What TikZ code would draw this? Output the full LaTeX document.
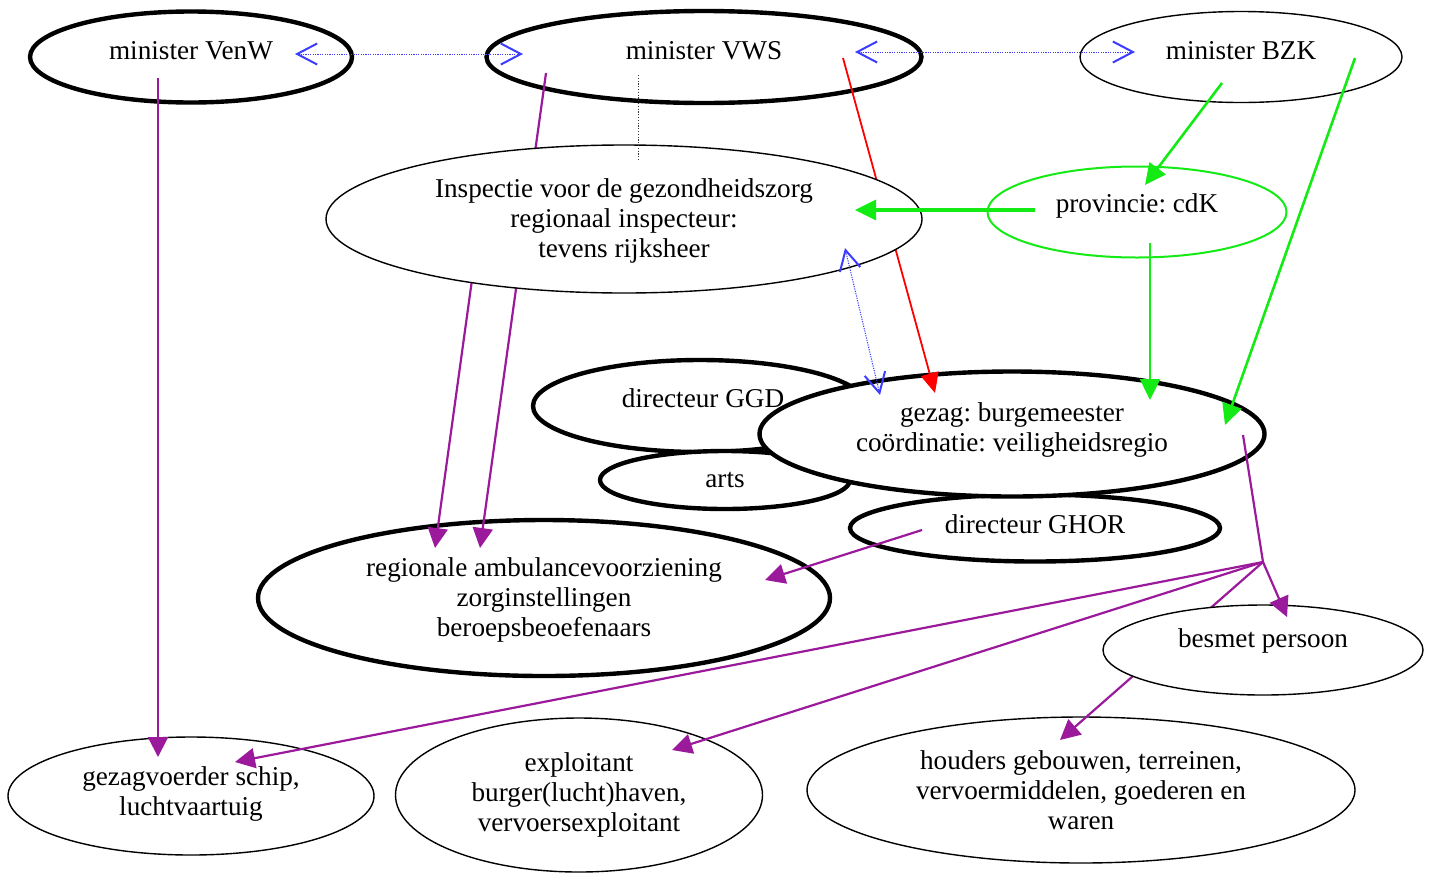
\documentclass[tikz,border=0pt]{standalone}
\usepackage{fontspec}
\setmainfont{Liberation Serif}
\usetikzlibrary{shapes.geometric,arrows.meta,calc}
\definecolor{pur}{RGB}{155,25,155}
\definecolor{grn}{RGB}{20,235,20}
\definecolor{blu}{RGB}{60,60,255}
\pgfdeclarelayer{base}
\pgfdeclarelayer{hid}
\pgfdeclarelayer{cover}
\pgfsetlayers{base,hid,cover,main}
\frenchspacing
\begin{document}
\begin{tikzpicture}[x=0.5pt,y=-0.5pt,
  font=\fontsize{13.6}{15}\selectfont,
  ell/.style={ellipse, inner sep=0pt, align=center, text=black},
  thickell/.style={ell, draw, line width=2.2pt},
  thinell/.style={ell, draw, line width=0.7pt},
  lift/.style={text depth=#1},
  pline/.style={draw=pur, line width=1.1pt, -{Triangle[length=10pt,width=10pt]}},
  gline/.style={draw=grn, line width=1.3pt, -{Triangle[length=10.5pt,width=10pt]}},
  rline/.style={draw=red, line width=0.9pt, -{Triangle[length=10pt,width=9pt]}},
  bline/.style={draw=blu, line width=0.5pt, dash pattern=on 0.6pt off 0.6pt,
    {Straight Barb[length=10pt,width=10.5pt,line width=1pt]}-{Straight Barb[length=10pt,width=10.5pt,line width=1pt]}},
  dotline/.style={draw=black!80, line width=0.5pt, dash pattern=on 0.6pt off 0.8pt},
]
\useasboundingbox (0,0) rectangle (1433,873);
\begin{pgfonlayer}{base}
\fill[white] (0,0) rectangle (1433,873);
\node[thickell, minimum width=161pt, minimum height=45.5pt, lift=7pt] (venw) at (191,57) {minister VenW};
\node[thickell, minimum width=217.5pt, minimum height=46pt, lift=7pt] (vws) at (704,57) {minister VWS};
\node[thinell, minimum width=161pt, minimum height=45.5pt, lift=7pt] (bzk) at (1241,57) {minister BZK};
\node[ell, draw=grn, line width=1pt, minimum width=149.5pt, minimum height=45.5pt, lift=9pt] (prov) at (1137,212) {provincie: cdK};
\node[thickell, minimum width=185pt, minimum height=33.5pt, lift=4pt] (ghor) at (1035,528) {directeur GHOR};
\node[thickell, fill=white, minimum width=167pt, minimum height=46pt, lift=8pt] (ggd) at (700,406) {\hspace*{3pt}directeur GGD};
\node[thickell, fill=white, minimum width=125pt, minimum height=29pt] (arts) at (725,480) {arts};
\node[thickell, fill=white, minimum width=252.5pt, minimum height=62.5pt, lift=7pt] (burg) at (1012,434) {gezag: burgemeester\\coördinatie: veiligheidsregio};
\node[thickell, minimum width=286pt, minimum height=78pt, lift=1pt] (amb) at (544,598) {regionale ambulancevoorziening\\zorginstellingen\\beroepsbeoefenaars};
\node[thinell, minimum width=183pt, minimum height=59pt, lift=5pt] (gezag) at (191,796) {gezagvoerder schip,\\luchtvaartuig};
\node[thinell, minimum width=183.5pt, minimum height=77pt] (expl) at (579,795) {exploitant\\burger(lucht)haven,\\vervoersexploitant};
\node[thinell, minimum width=274pt, minimum height=73pt] (houders) at (1081,790) {houders gebouwen, terreinen,\\vervoermiddelen, goederen en\\waren};
\end{pgfonlayer}
\begin{pgfonlayer}{cover}
\node[thinell, fill=white, minimum width=298pt, minimum height=74pt, lift=1pt] (insp) at (624,219) {Inspectie voor de gezondheidszorg\\regionaal inspecteur:\\tevens rijksheer};
\node[thinell, fill=white, minimum width=160pt, minimum height=45pt, lift=12pt] (besmet) at (1263,650) {besmet persoon};
\end{pgfonlayer}
\coordinate (jn) at ($(besmet)+(0,-88)$);
\begin{pgfonlayer}{hid}
\draw[pline] ($(vws)+(-158,16)$) -- ($(amb)+(-64,-50)$);
\draw[rline] ($(vws)+(139,1)$) -- ($(burg)+(-77,-41)$);
\draw[pline] ($(insp)+(-141,-19)$) -- ($(amb)+(-109,-50)$);
\draw[pline] (jn) -- ($(houders)+(-21,-50)$);
\end{pgfonlayer}
\draw[bline] ($(venw)+(104,-3)$) -- ($(vws)+(-181,-3)$);
\draw[bline] ($(vws)+(151,-5)$) -- ($(bzk)+(-106,-5)$);
\draw[pline] ($(venw)+(-33,21)$) -- ($(gezag)+(-33,-39)$);
\draw[dotline] ($(vws)+(-66,18)$) -- ($(insp)+(14,-59)$);
\draw[gline] ($(bzk)+(-19,26)$) -- ($(prov)+(8,-27)$);
\draw[gline] ($(bzk)+(114,1)$) -- ($(burg)+(213,-9)$);
\draw[gline, line width=1.6pt] ($(prov)+(-102,-2)$) -- ($(insp)+(231,-9)$);
\draw[gline] ($(prov)+(13,31)$) -- ($(burg)+(138,-34)$);
\draw[bline] ($(insp)+(221,29)$) -- ($(burg)+(-132,-39)$);
\draw[pline] ($(ghor)+(-113,2)$) -- ($(amb)+(221,-18)$);
\draw[draw=pur, line width=1.1pt] ($(burg)+(231,1)$) -- (jn);
\draw[pline] (jn) -- ($(besmet)+(24,-33)$);
\draw[pline] (jn) -- ($(gezag)+(44,-34)$);
\draw[pline] (jn) -- ($(expl)+(93,-45)$);
\end{tikzpicture}
\end{document}
